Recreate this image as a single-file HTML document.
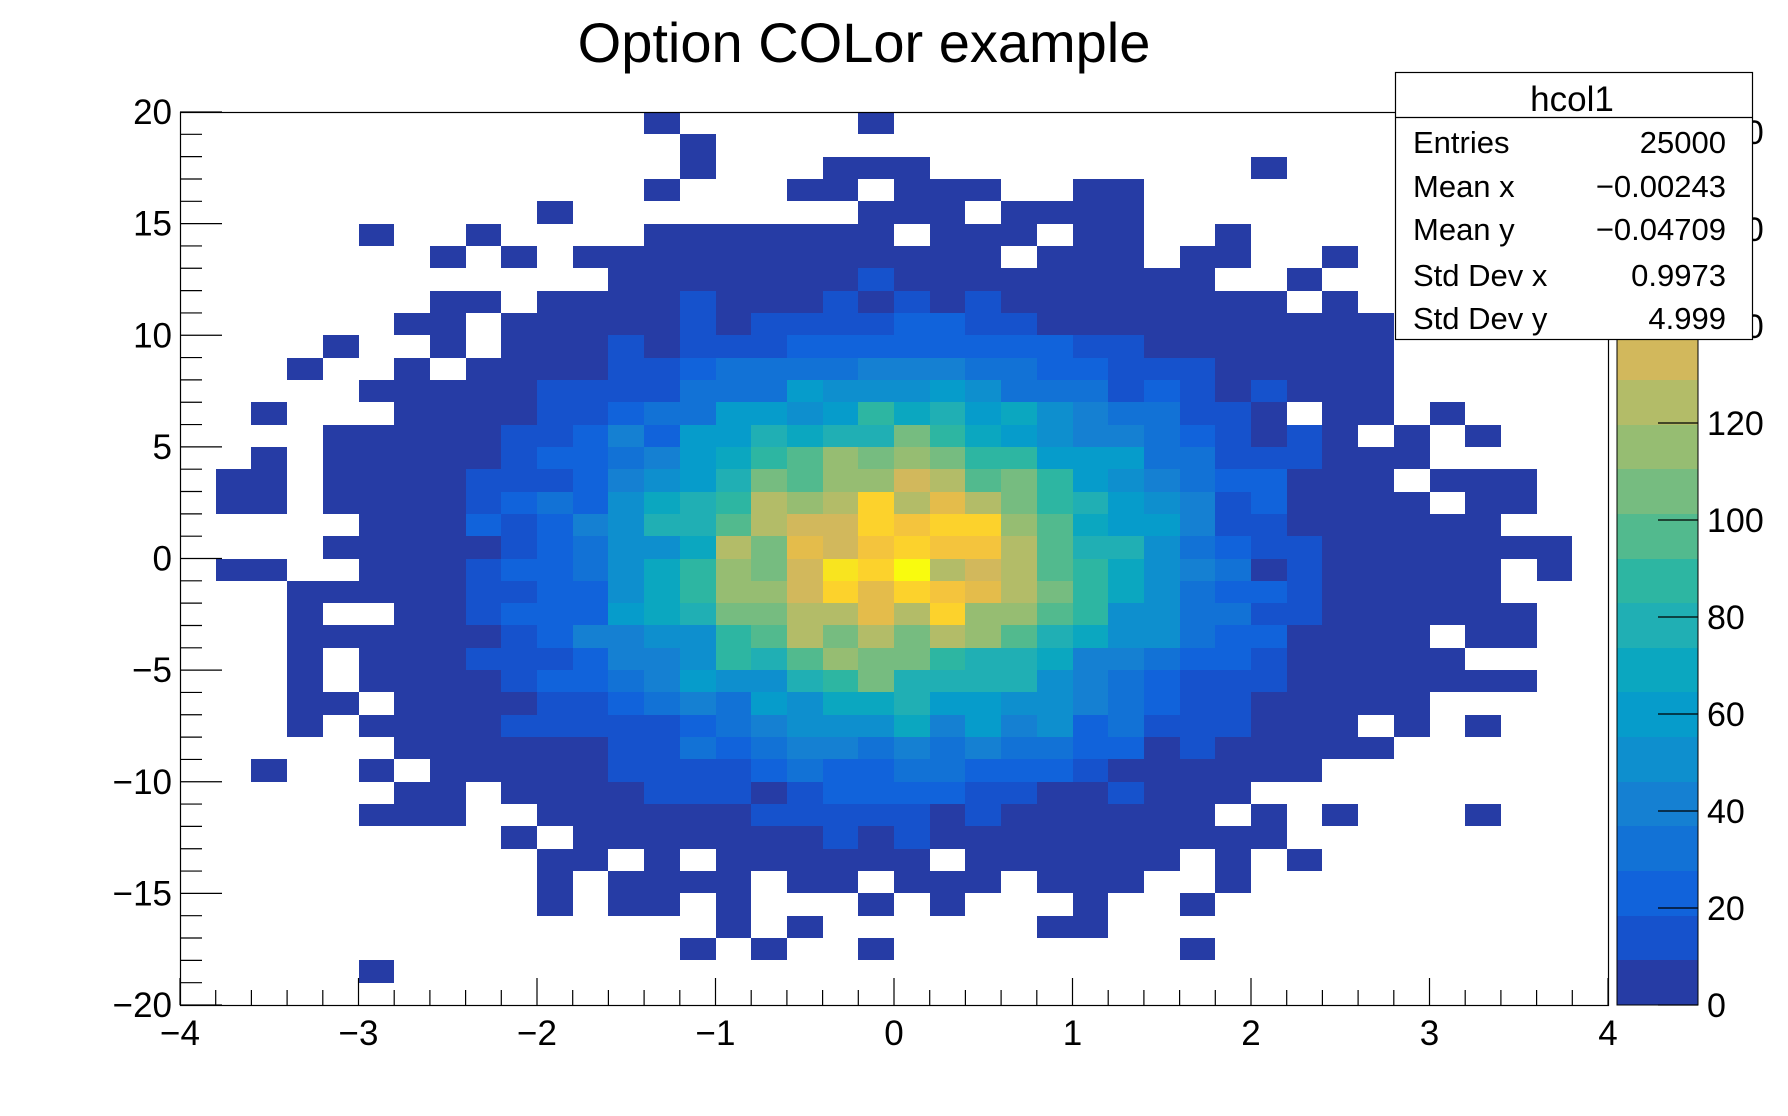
<!DOCTYPE html>
<html><head><meta charset="utf-8"><style>
html,body{margin:0;padding:0;background:#fff;}
svg{display:block;font-family:"Liberation Sans",sans-serif;}
</style></head><body>
<svg id="s" width="1788" height="1116" xmlns="http://www.w3.org/2000/svg">
<rect x="0" y="0" width="1788" height="1116" fill="#fff"/>
<g id="cells"></g>
<rect x="180.5" y="112.5" width="1428" height="893" fill="none" stroke="#000" stroke-width="1.2"/>
<g id="ticks" stroke="#000" stroke-width="1.2"></g>
<g id="labels" font-size="35" fill="#000"></g>
<text x="864" y="62" font-size="56" text-anchor="middle">Option COLor example</text>
<g id="pal"></g>
<rect x="1617" y="112" width="81" height="893" fill="none" stroke="#000" stroke-width="1"/>
<g id="palt" stroke="#000" stroke-width="1.2"></g>
<g id="pall" font-size="34"></g>
<rect x="1395.5" y="72.5" width="357" height="267" fill="#fff" stroke="#000" stroke-width="1.2"/>
<line x1="1395" y1="117.5" x2="1752" y2="117.5" stroke="#000" stroke-width="1.2"/>
<g font-size="31">
<text x="1572" y="111" font-size="35" text-anchor="middle">hcol1</text>
<text x="1413" y="153">Entries</text><text x="1726" y="153" text-anchor="end">25000</text>
<text x="1413" y="197">Mean x</text><text x="1726" y="197" text-anchor="end">−0.00243</text>
<text x="1413" y="240">Mean y</text><text x="1726" y="240" text-anchor="end">−0.04709</text>
<text x="1413" y="286">Std Dev x</text><text x="1726" y="286" text-anchor="end">0.9973</text>
<text x="1413" y="329">Std Dev y</text><text x="1726" y="329" text-anchor="end">4.999</text>
</g>
</svg>
<script>
var rows=[
["..........","...0.....0","..........",".........."],
["..........","....0.....","..........",".........."],
["..........","....0...00","0.........","0........."],
["..........","...0...00.","000..00...",".........."],
["..........","0........0","00.0000...",".........."],
[".....0..0.","...0000000",".000.00..0",".........."],
[".......0.0",".000000000","000.000.00","..0......."],
["..........","..00000001","000000000.",".0........"],
[".......00.","0000100010","1010000000","0.0......."],
["......00.0","0000101111","2211000000","0000......"],
["....0..0.0","0010111222","2222211000","0000......"],
["...0..0.00","0011233334","4433221110","0000......"],
[".....00000","1111333655","5653331210","1000......"],
["..0...0000","1123366569","7867543311","0.00.0...."],
["....000001","1242668788","B976544321","010.0.0..."],
["..0.000001","2234679ACB","CB99666331","11000....."],
[".00.000011","124568BACC","EDAB965432","2000.000.."],
[".00.000012","325789DCDH","DFDB986541","20000.00.."],
[".....00021","24588ADEEH","GHHCA76641","1000000..."],
["....000001","23557DBFEG","HGGDA88532","110000000."],
[".00..00012","23579CBEIH","JDEDA97543","0100000.0."],
["...0000011","22579CCEHF","HGFDB97532","2100000..."],
["...0..0012","22678BBDDF","DHCCA95533","11000000.."],
["...0000001","244559ADBD","BDCA875532","20000.00.."],
["...0.00011","1244598ACB","B988744322","100000...."],
["...0.00001","223465589B","8888543211","10000000.."],
["...00.0000","1123436577","8665543211","00000....."],
["...0.00001","1111234555","7464523111","000.0.0..."],
["......0000","0011323443","4343322010","0000......"],
["..0..0.000","0011112322","3322210000","00........"],
["......00.0","0001110122","2211001000",".........."],
[".....000..","0000001111","101000000.","0.0...0..."],
[".........0",".000000010","1000000000","0........."],
["..........","00.0.00000","0.000000.0",".0........"],
["..........","0.0000.00.","000.000..0",".........."],
["..........","0.00.0...0",".0...0..0.",".........."],
["..........",".....0.0..","....00....",".........."],
["..........","....0.0..0","........0.",".........."],
[".....0....","..........","..........",".........."],
["..........","..........","..........",".........."]
].map(function(a){return a.join('');});
var cols={"0":"#263ca5","1":"#1652cc","2":"#1163db","3":"#1272d6","4":"#1580d2","5":"#0e8fce","6":"#069ccb","7":"#0ba7c0","8":"#20afb4","9":"#2db6a2","A":"#52ba8e","B":"#76bc80","C":"#96bd72","D":"#b3bc68","E":"#d2b85c","F":"#e4bc4b","G":"#f4c43d","H":"#fcd22c","I":"#f8e41f","J":"#f9fb0e"};
var NS="http://www.w3.org/2000/svg";
function el(t,a,p,txt){var e=document.createElementNS(NS,t);for(var k in a)e.setAttribute(k,a[k]);if(txt!==undefined)e.textContent=txt;document.getElementById(p).appendChild(e);return e;}
var x0=180,y0=112,bw=1428/40,bh=893/40;
for(var r=0;r<40;r++){var s=rows[r];for(var c=0;c<40;c++){var ch=s[c];if(!ch||ch=='.'||ch==' ')continue;
var xa=Math.round(x0+c*bw),xb=Math.round(x0+(c+1)*bw),ya=Math.round(y0+r*bh),yb=Math.round(y0+(r+1)*bh);
el('rect',{x:xa,y:ya,width:xb-xa,height:yb-ya,fill:cols[ch]},'cells');}}
for(var i=0;i<=40;i++){var v=-4+i*0.2;var x=x0+i*bw;var maj=(i%5==0);
el('line',{x1:x,y1:1005,x2:x,y2:maj?978:990},'ticks');
if(maj){el('text',{x:x,y:1045,'text-anchor':'middle'},'labels',(v<0?'−':'')+Math.abs(Math.round(v)));}}
for(var j=0;j<=40;j++){var v=-20+j;var y=1005-j*bh;var maj=(j%5==0);
el('line',{x1:180,y1:y,x2:maj?222:202,y2:y},'ticks');
if(maj){el('text',{x:172,y:y+12,'text-anchor':'end'},'labels',(v<0?'−':'')+Math.abs(v));}}
var keys="0123456789ABCDEFGHIJ";var ph=893/20;
for(var k=0;k<20;k++){var ya=Math.round(1005-(k+1)*ph),yb=Math.round(1005-k*ph);
el('rect',{x:1617,y:ya,width:81,height:yb-ya,fill:cols[keys[k]]},'pal');}
for(var v=0;v<=180;v+=20){var y=1005-v*4.85;
el('line',{x1:1658,y1:y,x2:1698,y2:y},'palt');
el('text',{x:1707,y:y+12},'pall',''+v);}
</script>
</body></html>
